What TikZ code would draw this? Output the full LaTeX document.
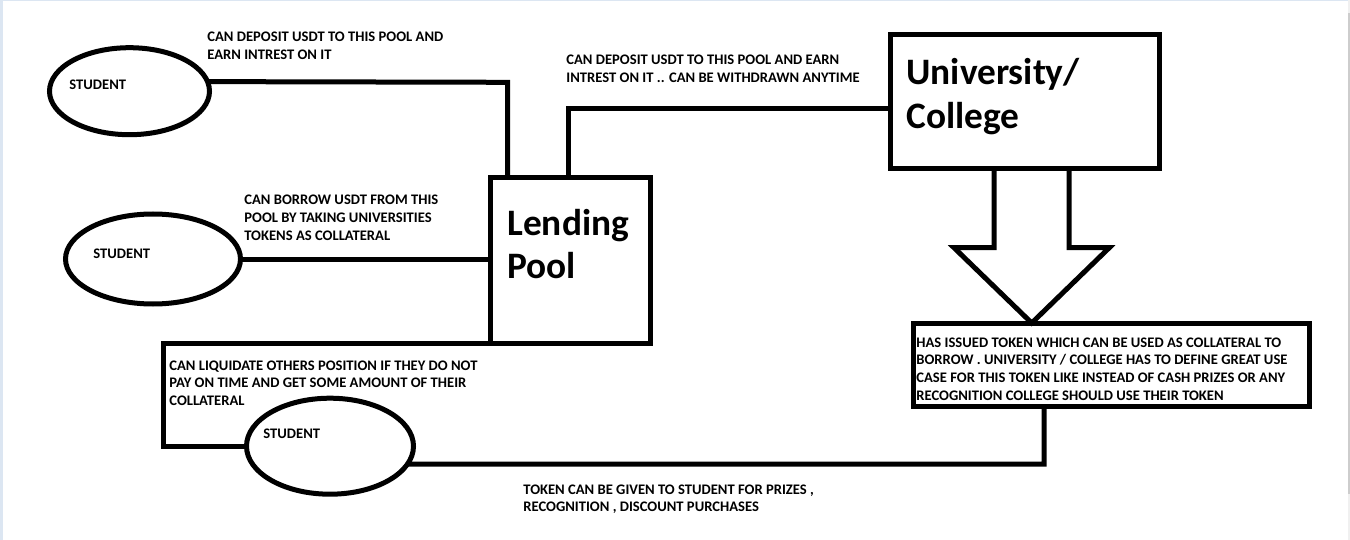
\documentclass[tikz,border=0pt]{standalone}
\usepackage{fontspec}
\setmainfont{Carlito}
\usetikzlibrary{shapes.geometric,calc}
\definecolor{edgeblue}{HTML}{DCE6F2}
\definecolor{edgegray}{HTML}{CDCDCD}
\definecolor{edgelight}{HTML}{F0F0F0}
\begin{document}
\begin{tikzpicture}[x=0.5pt,y=-0.5pt,
  studentshape/.style={draw,ellipse,line width=2.5pt,inner sep=0pt,outer sep=0pt},
  boxshape/.style={draw,rectangle,line width=2.5pt,inner sep=0pt,outer sep=0pt},
  conn/.style={draw,line width=2.5pt},
  small/.style={inner sep=0pt,anchor=base west,font=\bfseries\fontsize{7.3}{8.85}\selectfont},
  big/.style={inner sep=0pt,anchor=base west,font=\bfseries\fontsize{18.67}{21.8}\selectfont}
]
\useasboundingbox (0,0) rectangle (1350,540);
\fill[white] (0,0) rectangle (1350,540);
% window edges
\fill[edgeblue] (0,0) rectangle (3,540);
\fill[edgeblue] (0,0) rectangle (1348,1);
\fill[edgelight] (1347.5,0) rectangle (1350,540);
\fill[edgegray] (1347.5,13) rectangle (1350,494);

% shapes
\node[studentshape,minimum width=80pt,minimum height=43.5pt] (s1) at (129.5,91.2) {};
\node[studentshape,minimum width=87.5pt,minimum height=45pt] (s2) at (153,259) {};
\node[studentshape,minimum width=83.5pt,minimum height=48pt] (s3) at (330,446.2) {};
\node[boxshape,minimum width=80pt,minimum height=82.75pt] (lp) at (570.5,260.25) {};
\node[boxshape,minimum width=134.25pt,minimum height=67pt] (uni) at (1024.75,102) {};
\node[boxshape,minimum width=198pt,minimum height=41.75pt] (tok) at (1111,364.75) {};

% texts
\node[small] (t1) at (69,90) {STUDENT};
\node[small] (t2) at (93,258) {STUDENT};
\node[small] (t3) at (263,438.7) {STUDENT};
\node[big] (tlp) at (507,235) {\begin{tabular}[t]{@{}l@{}}Lending\\Pool\end{tabular}};
\node[big] (tuni) at (906,85) {\begin{tabular}[t]{@{}l@{}}University/\\College\end{tabular}};
\node[small] (d1) at (207,41.7) {\begin{tabular}[t]{@{}l@{}}CAN DEPOSIT USDT TO THIS POOL AND\\EARN INTREST ON IT\end{tabular}};
\node[small] (d2) at (244,205) {\begin{tabular}[t]{@{}l@{}}CAN BORROW USDT FROM THIS\\POOL BY TAKING UNIVERSITIES\\TOKENS AS COLLATERAL\end{tabular}};
\node[small] (d3) at (566,65) {\begin{tabular}[t]{@{}l@{}}CAN DEPOSIT USDT TO THIS POOL AND EARN\\INTREST ON IT .. CAN BE WITHDRAWN ANYTIME\end{tabular}};
\node[small] (d4) at (169,370) {\begin{tabular}[t]{@{}l@{}}CAN LIQUIDATE OTHERS POSITION IF THEY DO NOT\\PAY ON TIME AND GET SOME AMOUNT OF THEIR\\COLLATERAL\end{tabular}};
\node[small] (d5) at (916,347) {\begin{tabular}[t]{@{}l@{}}HAS ISSUED TOKEN WHICH CAN BE USED AS COLLATERAL TO\\BORROW . UNIVERSITY / COLLEGE HAS TO DEFINE GREAT USE\\CASE FOR THIS TOKEN LIKE INSTEAD OF CASH PRIZES OR ANY\\RECOGNITION COLLEGE SHOULD USE THEIR TOKEN\end{tabular}};
\node[small] (d6) at (523,494) {\begin{tabular}[t]{@{}l@{}}TOKEN CAN BE GIVEN TO STUDENT FOR PRIZES ,\\RECOGNITION , DISCOUNT PURCHASES\end{tabular}};

% bend points
\coordinate (b1) at (507.5,82.3);
\coordinate (b2) at (568,108.5);
\coordinate (b3) at (1044,464);
\coordinate (b4) at (163.3,446.2);

% connectors
\draw[conn] (s1.7) -- (b1) -- (b1 |- lp.north);
\draw[conn] (s2.east) -- (s2.east -| lp.west);
\draw[conn] (b2 |- lp.north) -- (b2) -- (b2 -| uni.west);
\draw[conn] (lp.south west) -- (lp.south west -| b4) -- (b4) -- (s3.west);
\draw[conn] (b3 |- tok.south) -- (b3) -- (s3.-13);

% big hollow arrow from University/College to token box
\coordinate (a1) at (994,0);
\coordinate (a2) at (1069,0);
\coordinate (a3) at (1031.7,0);
\draw[conn,line join=miter] (a1 |- uni.south) -- (994,247.7) -- (954,247.7) -- (a3 |- tok.north) -- (1109.3,247.7) -- (1069,247.7) -- (a2 |- uni.south);
\end{tikzpicture}
\end{document}
